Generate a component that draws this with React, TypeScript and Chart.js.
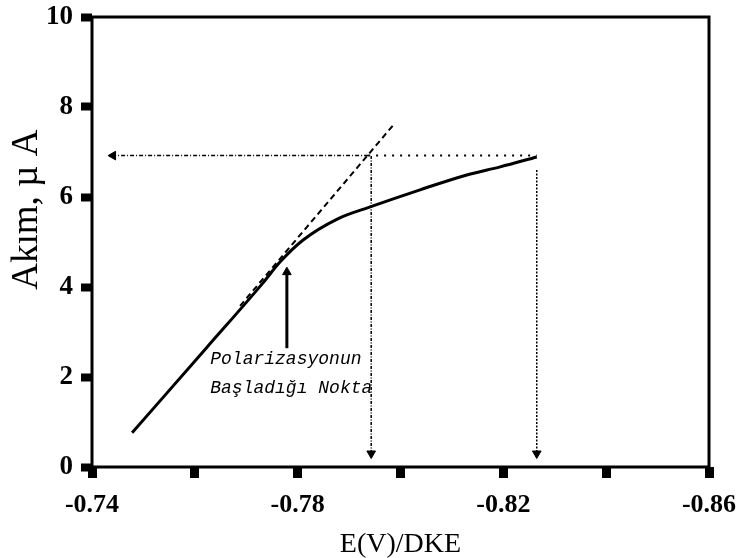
import { useEffect, useRef } from 'react';
import { Chart, registerables } from 'chart.js';

Chart.register(...registerables);

// Measured polarization curve (E in V vs DKE, current in µA)
const curveE = [-0.7478, -0.7622, -0.7731, -0.7766, -0.781, -0.7877, -0.7941, -0.8038, -0.8129, -0.8194, -0.8265];
const curveI = [0.76, 2.64, 4.07, 4.56, 5.04, 5.51, 5.78, 6.16, 6.49, 6.67, 6.89];

// Extrapolated linear (tangent) part
const tangentE = [-0.7688, -0.7989];
const tangentI = [3.58, 7.64];

// Guide lines
const guideLevel = 6.92;
const guideLeftE = [-0.7937, -0.7441];
const guideRightE = [-0.7937, -0.8265];
const dropE = [-0.7943, -0.8265];
const dropTopI = [6.91, 6.6];
const dropEndI = 0.3;

// Annotation arrow and text
const pointerE = -0.7779;
const pointerI = [2.64, 4.33];
const noteLines = ['Polarizasyonun', 'Başladığı Nokta'];
const noteE = -0.763;
const noteI = [2.3, 1.65];

// Axes
const xTickValues = [-0.74, -0.76, -0.78, -0.8, -0.82, -0.84, -0.86];
const xTickLabels = ['-0.74', '', '-0.78', '', '-0.82', '', '-0.86'];
const yTickValues = [0, 2, 4, 6, 8, 10];
const xTitle = 'E(V)/DKE';
const yTitle = '\u00A0\u00A0\u00A0\u00A0\u00A0\u00A0\u00A0Akım, µ A';

const framePlugin = {
  id: 'frame',
  afterDraw(chart: any) {
    const { ctx, chartArea: a } = chart;
    ctx.save();
    ctx.strokeStyle = '#000';
    ctx.lineWidth = 3;
    ctx.strokeRect(a.left, a.top, a.right - a.left, a.bottom - a.top);
    ctx.restore();
  },
};

const notePlugin = {
  id: 'note',
  afterDatasetsDraw(chart: any) {
    const { ctx } = chart;
    const xs = chart.scales.x;
    const ys = chart.scales.y;
    ctx.save();
    ctx.font = 'italic 18px "Liberation Mono"';
    ctx.fillStyle = '#000';
    ctx.textAlign = 'left';
    ctx.textBaseline = 'alphabetic';
    noteLines.forEach((t, i) => {
      ctx.fillText(t, xs.getPixelForValue(noteE), ys.getPixelForValue(noteI[i]));
    });
    ctx.restore();
  },
};

export default function App() {
  const ref = useRef<HTMLCanvasElement | null>(null);

  useEffect(() => {
    if (!ref.current) return;
    const black = '#000';
    const arrow = (rot: number) => ({
      pointStyle: 'triangle',
      pointRadius: [0, 5],
      pointHoverRadius: [0, 5],
      pointRotation: [0, rot],
      pointBackgroundColor: black,
      pointBorderColor: black,
      pointBorderWidth: 1,
    });
    const chart = new Chart(ref.current, {
      type: 'line',
      data: {
        datasets: [
          {
            label: 'curve',
            data: curveE.map((e, i) => ({ x: e, y: curveI[i] })),
            borderColor: black,
            borderWidth: 3,
            pointRadius: 0,
            cubicInterpolationMode: 'monotone',
          },
          {
            label: 'tangent',
            data: tangentE.map((e, i) => ({ x: e, y: tangentI[i] })),
            borderColor: black,
            borderWidth: 2,
            borderDash: [6, 4],
            pointRadius: 0,
          },
          {
            label: 'guideLeft',
            data: guideLeftE.map((e) => ({ x: e, y: guideLevel })),
            borderColor: black,
            borderWidth: 1.5,
            borderDash: [4, 2, 1, 2],
            ...arrow(270),
          },
          {
            label: 'guideRight',
            data: guideRightE.map((e) => ({ x: e, y: guideLevel })),
            borderColor: black,
            borderWidth: 2,
            borderDash: [2, 6],
            pointRadius: 0,
          },
          ...dropE.map((e, i) => ({
            label: 'drop' + i,
            data: [
              { x: e, y: dropTopI[i] },
              { x: e, y: dropEndI },
            ],
            borderColor: black,
            borderWidth: 1.5,
            borderDash: i === 0 ? [3, 1.5, 1, 1.5] : [2, 1.5],
            ...arrow(180),
          })),
          {
            label: 'pointer',
            data: pointerI.map((v) => ({ x: pointerE, y: v })),
            borderColor: black,
            borderWidth: 3,
            ...arrow(0),
          },
        ],
      } as any,
      options: {
        animation: false,
        responsive: true,
        maintainAspectRatio: false,
        layout: { padding: { top: 17, right: 29, left: 0, bottom: 0 } },
        plugins: {
          legend: { display: false },
          tooltip: { enabled: false },
        },
        scales: {
          x: {
            type: 'linear',
            min: -0.86,
            max: -0.74,
            reverse: true,
            afterBuildTicks(scale: any) {
              scale.ticks = xTickValues.map((v) => ({ value: v }));
            },
            afterFit(scale: any) {
              scale.height = 91;
              scale.paddingLeft = 0;
              scale.paddingRight = 0;
            },
            border: { display: false },
            grid: {
              drawOnChartArea: false,
              drawTicks: true,
              tickLength: 11,
              tickWidth: 9,
              tickColor: black,
            },
            ticks: {
              autoSkip: false,
              maxRotation: 0,
              padding: 12,
              color: black,
              font: { family: 'Liberation Serif', size: 26, weight: 'bold' },
              callback: (v: any) => {
                const idx = xTickValues.findIndex((t) => Math.abs(t - Number(v)) < 1e-6);
                return idx >= 0 ? xTickLabels[idx] : '';
              },
            },
            title: {
              display: true,
              text: xTitle,
              color: black,
              font: { family: 'Liberation Serif', size: 28 },
              padding: { top: 0, bottom: -3 },
            },
          },
          y: {
            type: 'linear',
            min: 0,
            max: 10,
            afterBuildTicks(scale: any) {
              scale.ticks = yTickValues.map((v) => ({ value: v }));
            },
            afterFit(scale: any) {
              scale.width = 92;
              scale.paddingTop = 0;
              scale.paddingBottom = 0;
            },
            border: { display: false },
            grid: {
              drawOnChartArea: false,
              drawTicks: true,
              tickLength: 11,
              tickWidth: 8,
              tickColor: black,
            },
            ticks: {
              padding: 8,
              color: black,
              font: { family: 'Liberation Serif', size: 27, weight: 'bold' },
              callback: (v: any) => String(v),
            },
            title: {
              display: true,
              text: yTitle,
              color: black,
              font: { family: 'Liberation Serif', size: 37 },
              padding: { top: 5, bottom: 0 },
            },
          },
        },
      } as any,
      plugins: [framePlugin, notePlugin],
    });
    return () => chart.destroy();
  }, []);

  return (
    <div style={{ position: 'absolute', left: 0, top: 0, width: 738, height: 558, background: '#fff' }}>
      <canvas ref={ref} />
    </div>
  );
}
